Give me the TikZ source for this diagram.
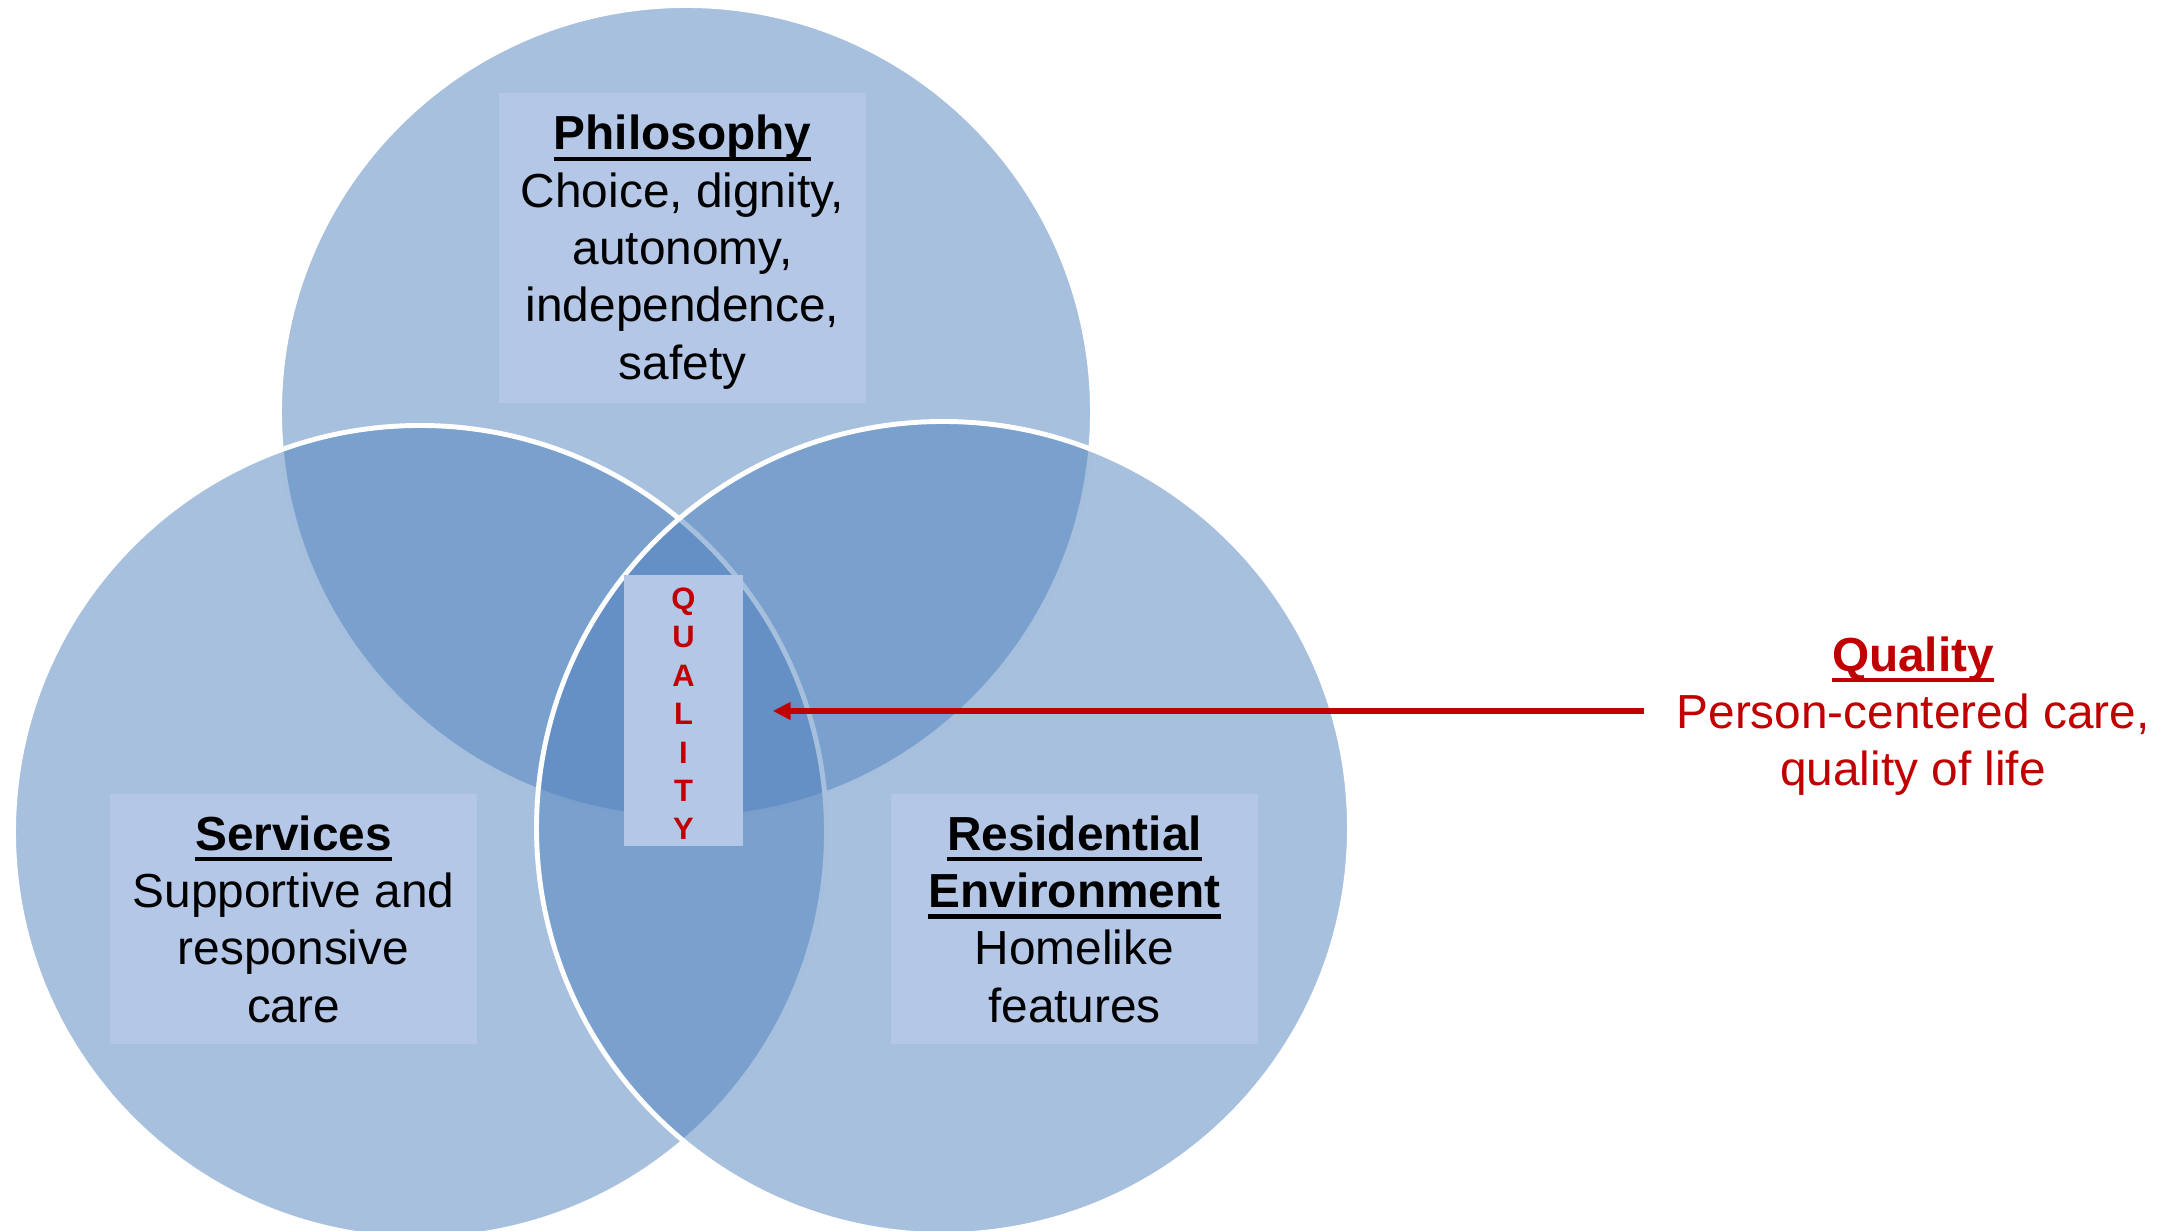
\documentclass[tikz,border=0pt]{standalone}
\usepackage{fontspec}
\setmainfont{Liberation Sans}
\usetikzlibrary{arrows.meta, positioning}
\definecolor{accentblue}{RGB}{79,129,189}
\definecolor{boxblue}{RGB}{180,199,231}
\definecolor{qred}{RGB}{192,0,0}
\newsavebox\headbox
\newcommand{\headul}[1]{\sbox\headbox{\bfseries #1}%
  \rlap{\rule[-3.2pt]{\wd\headbox}{1.3pt}}\usebox\headbox}
\tikzset{
  ring/.style={circle, minimum size=8.13cm, inner sep=0pt, fill=accentblue,
    fill opacity=0.5, draw=white, line width=1.4pt},
  textbox/.style={rectangle, fill=boxblue, minimum width=3.67cm, inner sep=0pt,
    align=center, font=\fontsize{13.6}{16.3}\selectfont},
  qbox/.style={rectangle, fill=boxblue, minimum width=1.19cm, minimum height=2.71cm,
    inner sep=0pt, align=center, text=qred, font=\bfseries\fontsize{8.8}{10.95}\selectfont},
  qlabel/.style={align=center, text=qred, inner ysep=0pt, inner xsep=9pt,
    font=\fontsize{13.6}{16.3}\selectfont},
  arrow/.style={-{Triangle[length=1.8mm, width=1.7mm]}, line width=1.6pt,
    draw=qred, shorten >=2.9mm},
}

\begin{document}
\begin{tikzpicture}
  \useasboundingbox (0,0) rectangle (21.8,12.31);

  % three overlapping circles
  \node[ring] (rphil) at (6.86,8.19) {};
  \node[ring] (rserv) at (4.20,3.99) {};
  \node[ring] (rres)  at (9.43,4.03) {};

  % text panels
  \node[textbox, minimum height=3.10cm] (phil) at (6.825,9.83)
    {\rule{0pt}{12.2pt}\headul{Philosophy}\\Choice, dignity,\\autonomy,\\independence,\\safety};
  \node[textbox, minimum height=2.50cm] (serv) at (2.935,3.12)
    {\headul{Services}\\Supportive and\\responsive\\care};
  \node[textbox, minimum height=2.50cm] (res) at (10.745,3.12)
    {\headul{Residential}\\\headul{Environment}\\Homelike\\features};

  % centre panel and its callout
  \node[qbox] (qcore) at (6.835,5.205) {\rule{0pt}{8pt}Q\\U\\A\\L\\I\\T\\Y};
  \node[qlabel] (qtext) at (19.13,5.15)
    {\headul{Quality}\\Person-centered care,\\quality of life};

  \draw[arrow] ([yshift=0.5mm]qtext.west) coordinate (qfrom)
    -- (qfrom -| qcore.east);
\end{tikzpicture}
\end{document}
